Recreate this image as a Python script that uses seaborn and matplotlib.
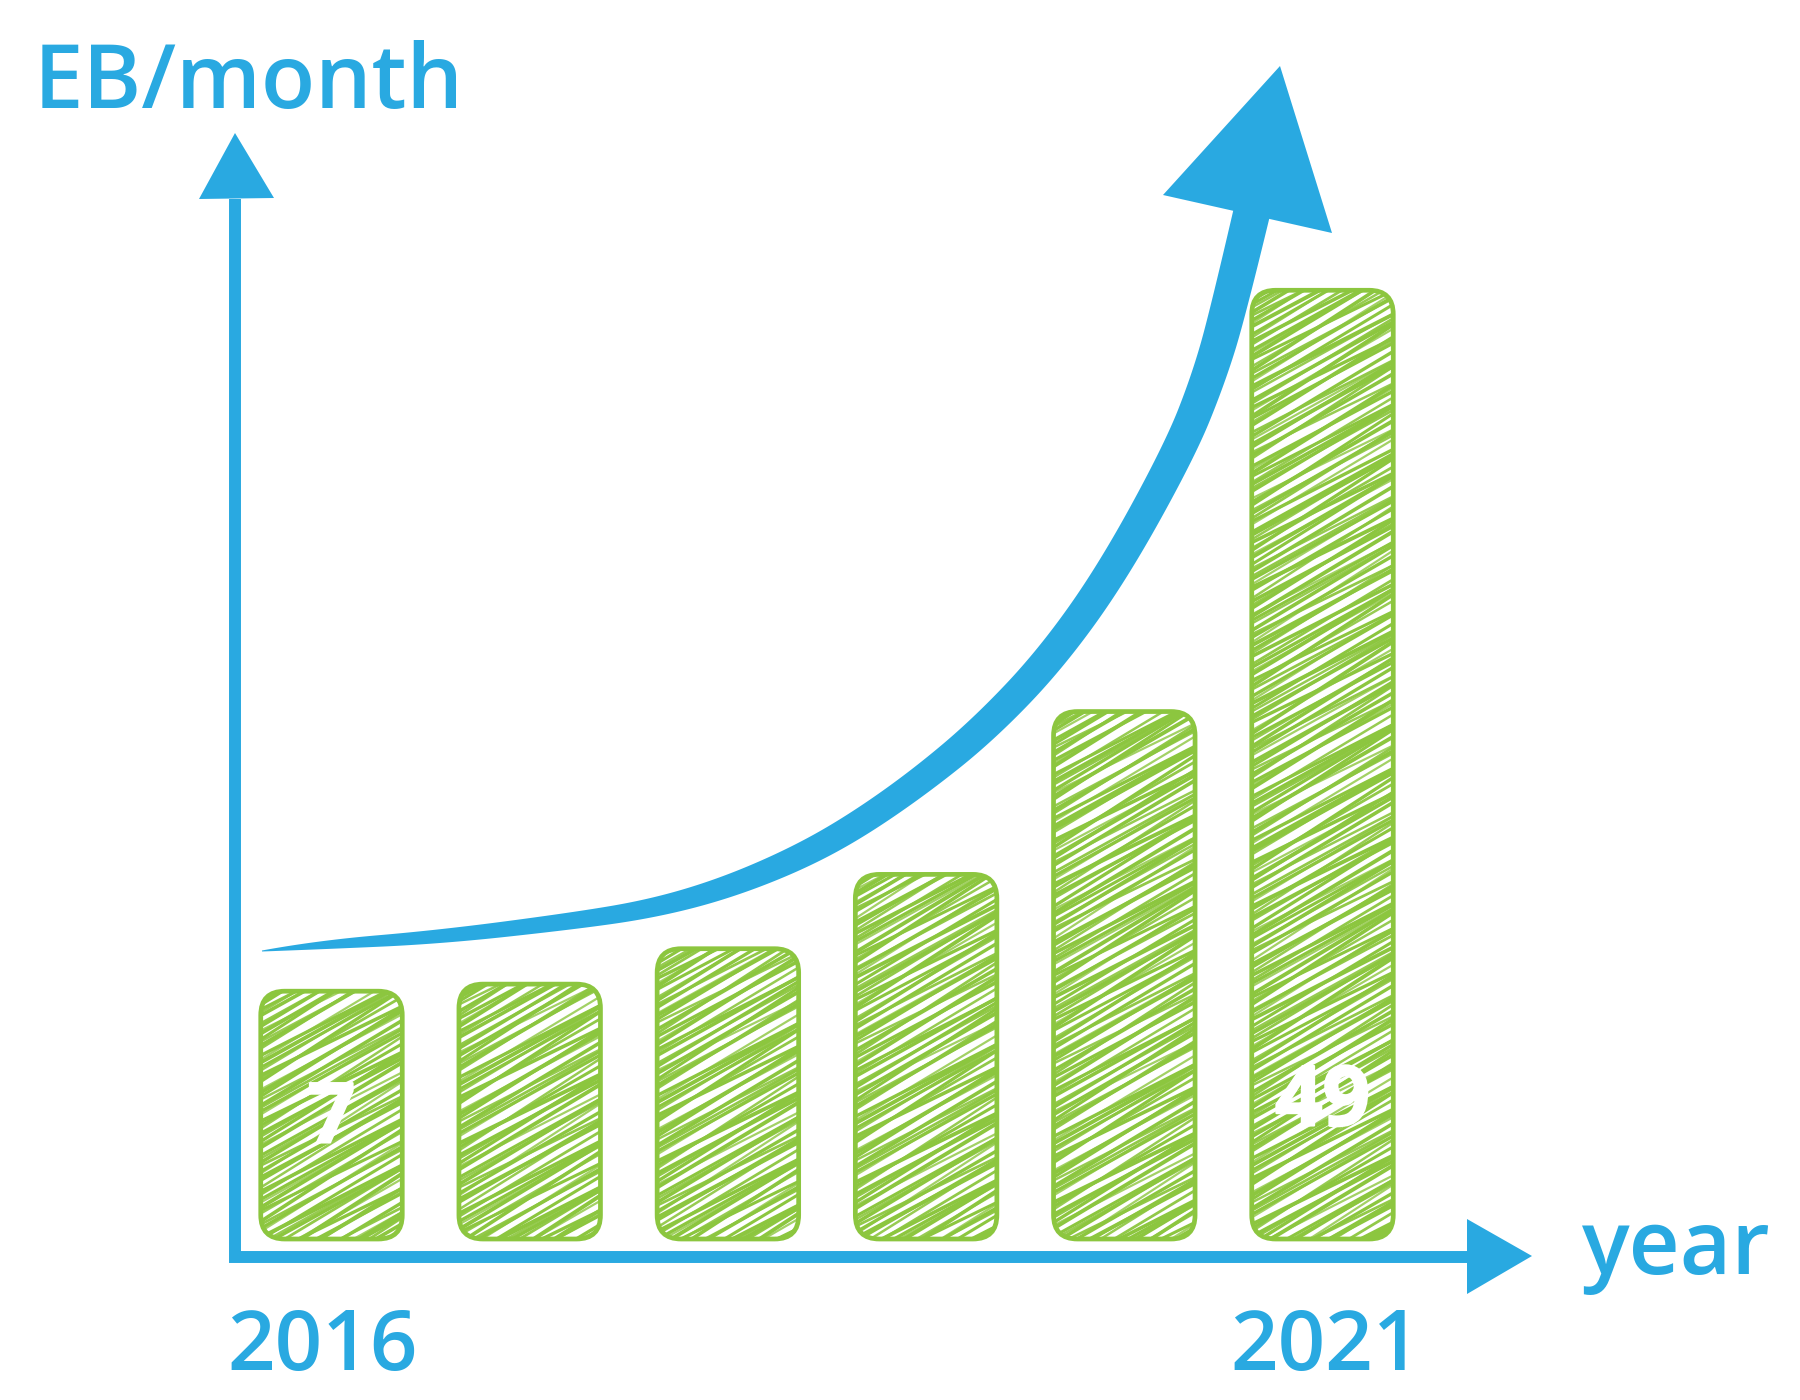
import numpy as np
import matplotlib
matplotlib.use("Agg")
import matplotlib.pyplot as plt
import matplotlib.patheffects as pe
import seaborn as sns
from matplotlib.patches import FancyBboxPatch, Polygon
from matplotlib.collections import LineCollection

# ==========================================
# DATA
# ==========================================
years = ["2016", "2017", "2018", "2019", "2020", "2021"]
# drawn bar heights (the original is not to scale), in units where 2016 = 7
bar_height = [7.0, 7.2, 8.2, 10.3, 14.9, 26.8]
bar_label = ["7", "", "", "", "", "49"]
year_label = ["2016", "", "", "", "", "2021"]

# growth arrow: centre line in pixels of the 1800x1400 picture, width in pixels
trend_px = [262, 317, 440, 573, 650, 720, 790, 850, 917, 983, 1050, 1113, 1180, 1208, 1228, 1254]
trend_py = [951, 945, 937, 921, 909, 890, 862, 830, 784, 730, 660, 572, 450, 380, 313, 203]
trend_w = [1, 9, 14, 17, 19, 22, 25, 27, 28, 30, 31, 32, 33, 34, 36, 37]

# ==========================================
# STYLE
# ==========================================
BLUE = "#29a9e1"
GREEN = "#8cc63f"
W, H = 1800, 1400
PX0, PXS = 331.5, 198.2   # pixel x of first bar centre, pixels per category
PY0, PYS = 1239.0, 35.4   # pixel y (from top) of bar base, pixels per unit

sns.set_style("white")
plt.rcParams["font.family"] = ["Open Sans", "DejaVu Sans"]


def px(xp, yp):
    # convert a pixel position (from the top-left) into data units
    return ((np.asarray(xp) - PX0) / PXS, (PY0 - np.asarray(yp)) / PYS)


def smooth(vals, n=24):
    # quadratic B-spline through the midpoints of the read points
    v = np.asarray(vals, dtype=float)
    on = [v[0]] + [(v[k] + v[k + 1]) / 2 for k in range(1, len(v) - 2)] + [v[-1]]
    t = np.linspace(0, 1, n, endpoint=False)
    out = []
    for k in range(len(v) - 2):
        a, c, b = on[k], v[k + 1], on[k + 1]
        out.append((1 - t) ** 2 * a + 2 * (1 - t) * t * c + t ** 2 * b)
    out.append(np.asarray([v[-1]]))
    return np.concatenate(out)


fig = plt.figure(figsize=(W / 100, H / 100), dpi=100)
ax = fig.add_axes([0, 0, 1, 1])

sns.barplot(x=years, y=bar_height, color=GREEN, width=0.714, errorbar=None, ax=ax)

ax.set_xlim(-PX0 / PXS, (W - PX0) / PXS)
ax.set_ylim((PY0 - H) / PYS, PY0 / PYS)
ax.axis("off")

# hand-drawn look: rounded outline + dense, uneven diagonal strokes
steps = [3, 5, 3, 4, 7, 3, 4, 2, 6, 3, 4, 3, 8, 3, 3, 5]
angles = [29, 31, 27, 32, 30, 28, 33, 30, 26, 31, 29]
alphas = [1.0, 0.9, 1.0, 1.0, 0.8, 1.0, 0.95]
widths = [2.6, 1.8, 2.2, 2.8, 1.6, 2.4, 2.0]
radius = 24 / PXS

for i, (bar, lab) in enumerate(zip(list(ax.patches), bar_label)):
    x, y, w, h = bar.get_x(), bar.get_y(), bar.get_width(), bar.get_height()
    bar.set_visible(False)
    style = f"round,pad=0,rounding_size={radius}"
    body = FancyBboxPatch((x, y), w, h, boxstyle=style, mutation_aspect=PXS / PYS,
                          fc="white", ec="none", zorder=2)
    ax.add_patch(body)
    edge = FancyBboxPatch((x, y), w, h, boxstyle=style, mutation_aspect=PXS / PYS,
                          fc="none", ec=GREEN, lw=3.4, zorder=5)
    ax.add_patch(edge)

    segs, cols, lws = [], [], []
    wpx = w * PXS
    c = y - wpx * np.tan(np.radians(34)) / PYS
    k = i * 5
    while c < y + h:
        ang = np.radians(angles[k % len(angles)])
        rise = wpx * np.tan(ang) / PYS
        segs.append([(x, c), (x + w, c + rise)])
        cols.append((0.549, 0.776, 0.247, alphas[k % len(alphas)]))
        lws.append(widths[k % len(widths)])
        c += steps[k % len(steps)] / PYS
        k += 1
    lc = LineCollection(segs, colors=cols, linewidths=lws, zorder=4)
    lc.set_clip_path(body)
    ax.add_collection(lc)

    if lab:
        ax.text(x + w / 2, px(0, 1121 if lab == "7" else 1104)[1], lab,
                color="white", fontsize=60, fontweight="bold",
                ha="center", va="center", zorder=7,
                path_effects=[pe.withStroke(linewidth=1.5, foreground="white")])

# year labels under the first and last bars
year_px = [323, 0, 0, 0, 0, 1326]
for i, lab in enumerate(year_label):
    if lab:
        ax.text(*px(year_px[i], 1348), lab, color=BLUE, fontsize=60,
                fontweight="semibold", ha="center", va="center")

# growth arrow: tapered band around a smoothed centre line
cx = smooth(trend_px)
cy = smooth(trend_py)
cw = smooth(trend_w)
dx, dy = np.gradient(cx), np.gradient(cy)
norm = np.hypot(dx, dy)
nx, ny = -dy / norm, dx / norm
edge_x = np.concatenate([cx + nx * cw / 2, (cx - nx * cw / 2)[::-1]])
edge_y = np.concatenate([cy + ny * cw / 2, (cy - ny * cw / 2)[::-1]])
bx, by = px(edge_x, edge_y)
ax.fill(bx, by, color=BLUE, lw=0, zorder=6)
ax.add_patch(Polygon([px(1280, 66), px(1163, 195), px(1332, 233)],
                     closed=True, fc=BLUE, ec="none", zorder=6))

# axes drawn as arrows
corner = px(235, 1257)
ax.plot([corner[0], corner[0], px(1467, 0)[0]],
        [px(0, 199)[1], corner[1], corner[1]],
        color=BLUE, lw=8.6, solid_joinstyle="miter", solid_capstyle="butt", zorder=6)
ax.add_patch(Polygon([px(235, 133), px(199, 199), px(274, 198)],
                     closed=True, fc=BLUE, ec="none", zorder=6))
ax.add_patch(Polygon([px(1532, 1256), px(1467, 1219), px(1467, 1294)],
                     closed=True, fc=BLUE, ec="none", zorder=6))

ax.text(*px(34, 108), "EB/month", color=BLUE, fontsize=64, fontweight="semibold",
        ha="left", va="baseline")
ax.text(*px(1582, 1274), "year", color=BLUE, fontsize=64, fontweight="semibold",
        ha="left", va="baseline")

fig.savefig("out.png", dpi=100, facecolor="white")
